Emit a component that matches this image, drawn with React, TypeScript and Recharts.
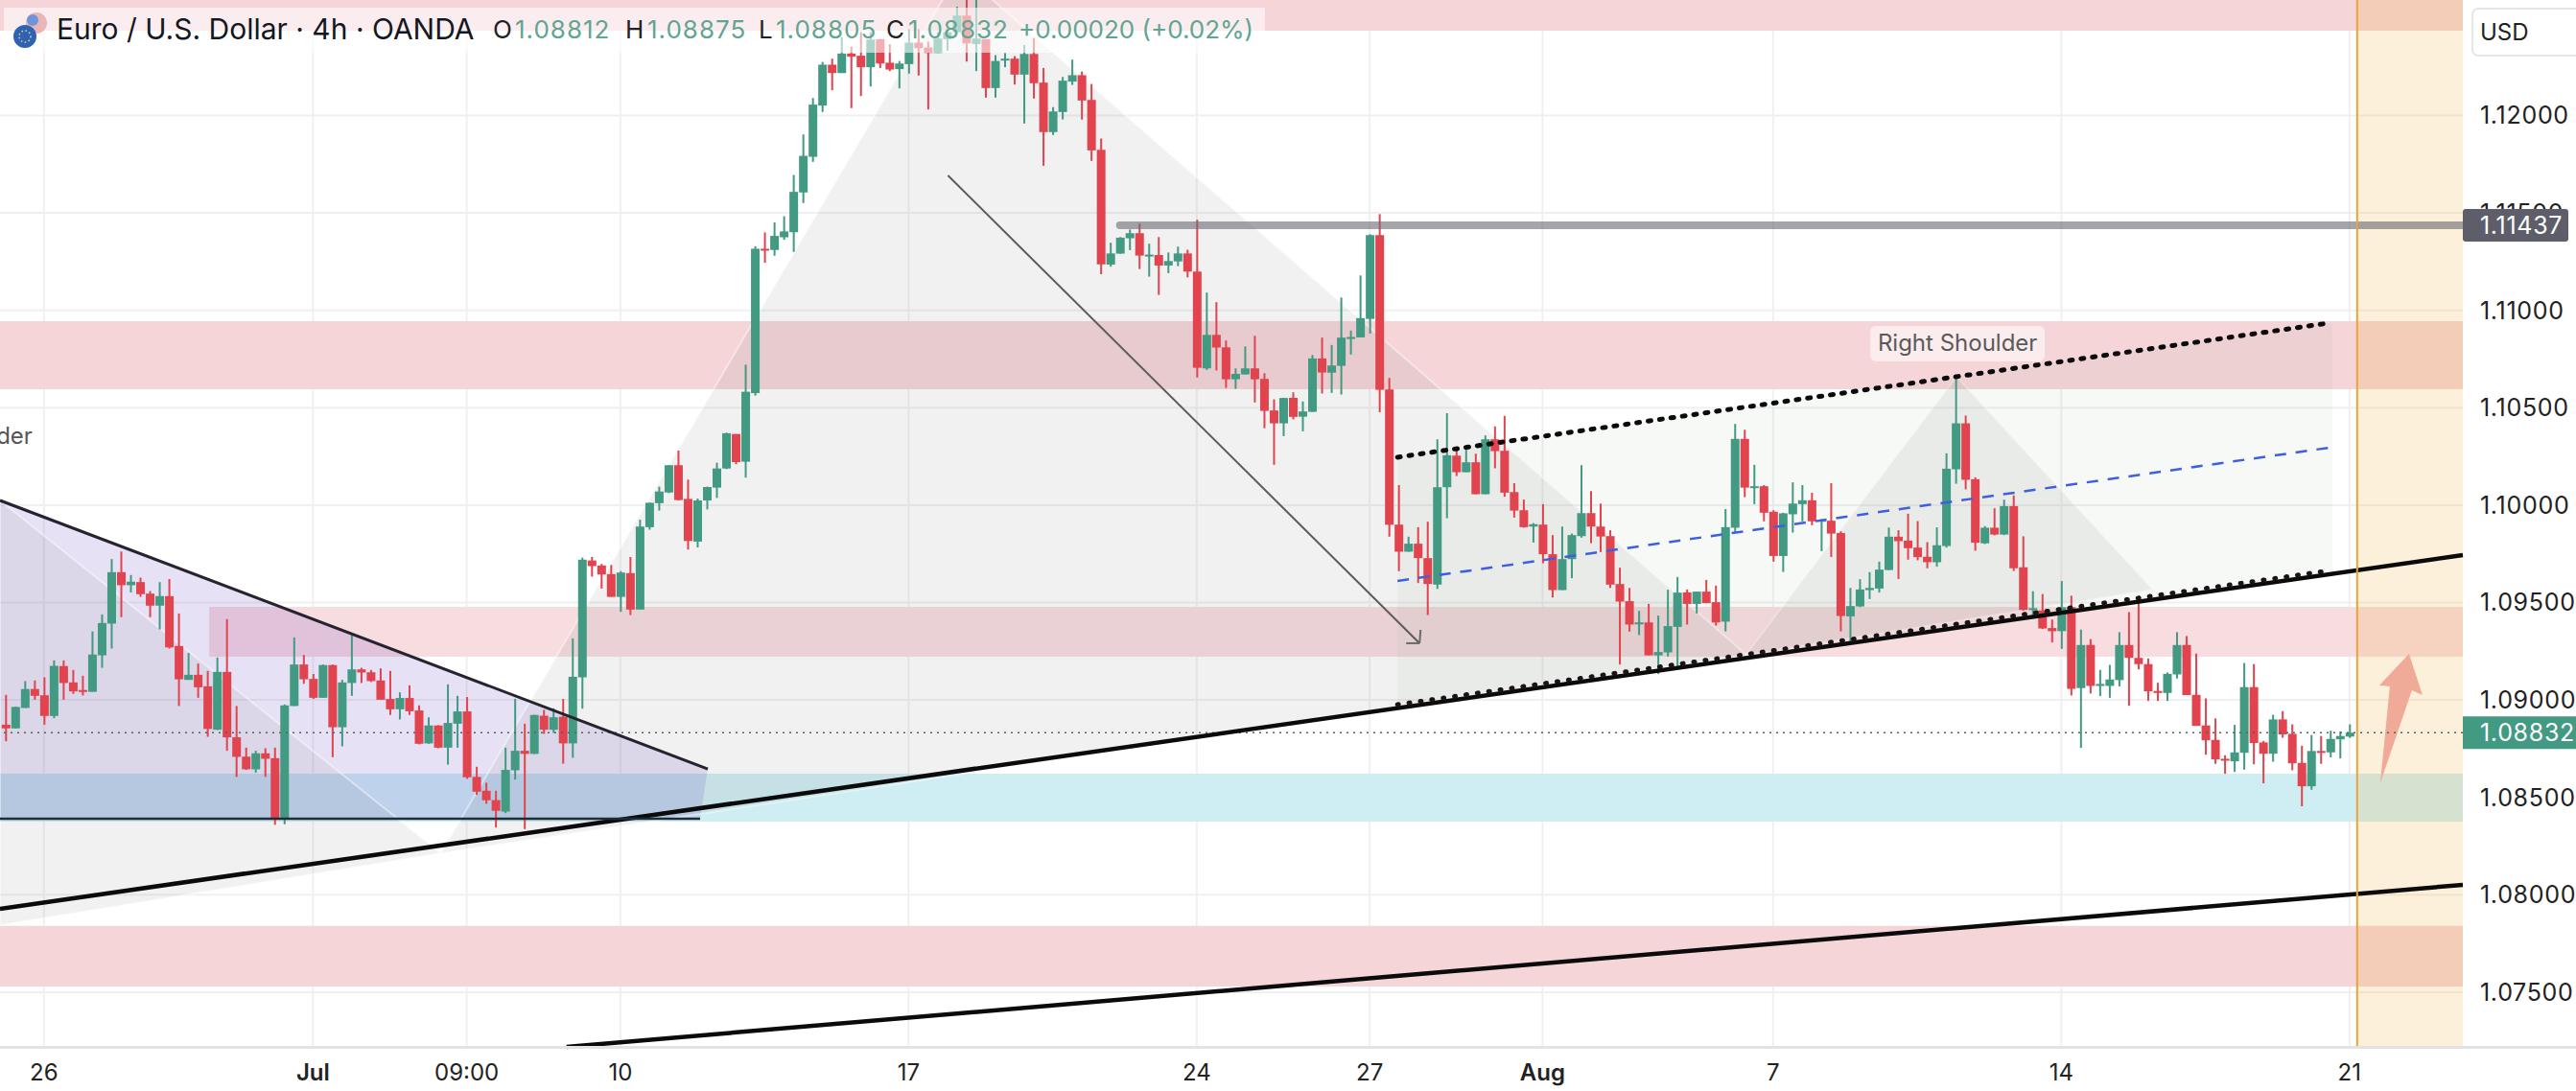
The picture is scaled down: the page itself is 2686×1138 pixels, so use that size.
import React from "react";
import {
  ComposedChart,
  Bar,
  XAxis,
  YAxis,
  CartesianGrid,
  ReferenceArea,
  ReferenceLine,
  ReferenceDot,
} from "recharts";

const opens = [
  1.08873,1.08854,1.08959,1.09056,1.09024,1.08918,1.09174,1.09090,1.09051,1.09042,
  1.09229,1.09392,1.09656,1.09589,1.09605,1.09546,1.09484,1.09533,1.09277,1.09103,
  1.09129,1.09070,1.08847,1.09144,1.08808,1.08709,1.08644,1.08726,1.08701,1.08386,
  1.08969,1.09182,1.09108,1.09011,1.09179,1.08860,1.09087,1.09157,1.09142,1.09100,
  1.09005,1.08952,1.09010,1.08946,1.08777,1.08869,1.08755,1.08878,1.08941,1.08605,
  1.08534,1.08486,1.08427,1.08639,1.08739,1.08723,1.08919,1.08847,1.08914,1.08777,
  1.09116,1.09716,1.09690,1.09646,1.09529,1.09651,1.09464,1.09887,1.10010,1.10065,
  1.10205,1.10032,1.09813,1.10024,1.10090,1.10188,1.10365,1.10223,1.10575,1.11316,
  1.11310,1.11375,1.11401,1.11605,1.11788,1.12051,1.12261,1.12218,1.12318,1.12307,
  1.12248,1.12392,1.12271,1.12238,1.12264,1.12374,1.12349,1.12321,1.12392,1.12428,
  1.12513,1.12367,1.12392,1.12141,1.12284,1.12292,1.12210,1.12316,1.12169,1.11915,
  1.12018,1.12174,1.12207,1.12080,1.11824,1.11235,1.11291,1.11370,1.11396,1.11279,
  1.11284,1.11230,1.11251,1.11292,1.11199,1.10702,1.10874,1.10810,1.10646,1.10671,
  1.10702,1.10648,1.10486,1.10420,1.10551,1.10454,1.10479,1.10753,1.10680,1.10715,
  1.10858,1.10861,1.10956,1.11386,1.10594,1.09900,1.09761,1.09802,1.09728,1.09592,
  1.10092,1.10254,1.10169,1.10220,1.10056,1.10338,1.10279,1.10067,1.09974,1.09890,
  1.09900,1.09748,1.09564,1.09723,1.09841,1.09959,1.09890,1.09841,1.09595,1.09507,
  1.09392,1.09398,1.09229,1.09244,1.09375,1.09552,1.09493,1.09556,1.09502,1.09402,
  1.09884,1.10340,1.10090,1.10097,1.09966,1.09739,1.09953,1.10005,1.10025,1.09917,
  1.09920,1.09857,1.09429,1.09480,1.09564,1.09572,1.09667,1.09838,1.09818,1.09782,
  1.09735,1.09707,1.09790,1.10184,1.10420,1.10133,1.09804,1.09884,1.09849,1.09995,
  1.09681,1.09462,1.09459,1.09369,1.09353,1.09476,1.09061,1.09282,1.09072,1.09072,
  1.09102,1.09282,1.09216,1.09184,1.09046,1.09036,1.09131,1.09282,1.09026,1.08869,
  1.08795,1.08698,1.08685,1.08729,1.09066,1.08782,1.08724,1.08900,1.08826,1.08677,
  1.08557,1.08738,1.08731,1.08798,1.08812,
];

const highs = [
  1.09026,1.08965,1.09097,1.09100,1.09116,1.09203,1.09203,1.09154,1.09124,1.09352,
  1.09439,1.09723,1.09762,1.09641,1.09628,1.09559,1.09605,1.09621,1.09444,1.09241,
  1.09187,1.09149,1.09218,1.09415,1.08969,1.08755,1.08739,1.08752,1.08755,1.08977,
  1.09321,1.09231,1.09133,1.09182,1.09182,1.09103,1.09341,1.09165,1.09154,1.09162,
  1.09149,1.09039,1.09075,1.08972,1.08911,1.08870,1.09080,1.09021,1.09015,1.08657,
  1.08575,1.08534,1.08755,1.09006,1.08878,1.08924,1.08949,1.08957,1.09005,1.09316,
  1.09731,1.09734,1.09698,1.09693,1.09661,1.09734,1.09925,1.10012,1.10095,1.10205,
  1.10280,1.10131,1.10034,1.10095,1.10218,1.10372,1.10365,1.10721,1.11329,1.11400,
  1.11451,1.11483,1.11695,1.11903,1.12090,1.12275,1.12292,1.12403,1.12354,1.12428,
  1.12428,1.12392,1.12366,1.12280,1.12444,1.12444,1.12379,1.12428,1.12448,1.12559,
  1.12600,1.12600,1.12392,1.12310,1.12321,1.12305,1.12362,1.12398,1.12244,1.12043,
  1.12198,1.12287,1.12226,1.12162,1.11882,1.11347,1.11376,1.11415,1.11445,1.11342,
  1.11376,1.11297,1.11327,1.11311,1.11465,1.11091,1.11042,1.10845,1.10702,1.10815,
  1.10869,1.10677,1.10543,1.10551,1.10579,1.10532,1.10771,1.10860,1.10822,1.11066,
  1.10896,1.11179,1.11391,1.11494,1.10653,1.10103,1.09838,1.09887,1.09915,1.10338,
  1.10472,1.10297,1.10289,1.10264,1.10358,1.10404,1.10458,1.10113,1.10028,1.09908,
  1.10005,1.09846,1.09890,1.09854,1.10205,1.10072,1.10008,1.09871,1.09679,1.09575,
  1.09457,1.09493,1.09433,1.09566,1.09631,1.09567,1.09556,1.09616,1.09587,1.09980,
  1.10417,1.10387,1.10207,1.10103,1.09974,1.09961,1.10117,1.10103,1.10064,1.09928,
  1.10113,1.09866,1.09575,1.09620,1.09656,1.09710,1.09885,1.09871,1.09956,1.09918,
  1.09810,1.09886,1.10266,1.10660,1.10460,1.10143,1.09892,1.09984,1.10028,1.10050,
  1.09840,1.09558,1.09544,1.09413,1.09610,1.09535,1.09361,1.09312,1.09154,1.09180,
  1.09348,1.09451,1.09520,1.09213,1.09088,1.09141,1.09348,1.09328,1.09238,1.09008,
  1.08905,1.08716,1.08872,1.09190,1.09184,1.08790,1.08924,1.08943,1.08875,1.08765,
  1.08820,1.08815,1.08842,1.08839,1.08875,
];

const lows = [
  1.08788,1.08854,1.08959,1.09001,1.08873,1.08906,1.09001,1.09031,1.09023,1.09042,
  1.09165,1.09264,1.09425,1.09552,1.09529,1.09425,1.09362,1.09264,1.08969,1.09103,
  1.09011,1.08811,1.08846,1.08739,1.08605,1.08641,1.08627,1.08605,1.08359,1.08362,
  1.08969,1.09083,1.09005,1.09011,1.08706,1.08762,1.09021,1.09087,1.09092,1.09001,
  1.08923,1.08900,1.08923,1.08772,1.08775,1.08752,1.08668,1.08755,1.08595,1.08513,
  1.08467,1.08345,1.08419,1.08591,1.08337,1.08723,1.08826,1.08831,1.08673,1.08703,
  1.08955,1.09633,1.09572,1.09529,1.09452,1.09436,1.09464,1.09874,1.09972,1.10062,
  1.10024,1.09772,1.09783,1.09978,1.10037,1.10185,1.10210,1.10141,1.10562,1.11244,
  1.11280,1.11362,1.11300,1.11551,1.11762,1.12018,1.12130,1.12218,1.12038,1.12100,
  1.12149,1.12244,1.12228,1.12139,1.12215,1.12205,1.12031,1.12321,1.12333,1.12428,
  1.12277,1.12228,1.12092,1.12092,1.12248,1.12159,1.11959,1.12087,1.11742,1.11900,
  1.11980,1.12157,1.11979,1.11767,1.11185,1.11224,1.11291,1.11309,1.11212,1.11173,
  1.11079,1.11191,1.11227,1.11169,1.10655,1.10694,1.10691,1.10602,1.10597,1.10671,
  1.10527,1.10395,1.10207,1.10354,1.10440,1.10379,1.10479,1.10573,1.10576,1.10568,
  1.10773,1.10861,1.10881,1.10477,1.09838,1.09661,1.09761,1.09600,1.09436,1.09570,
  1.09933,1.10149,1.10169,1.10056,1.10056,1.10189,1.10043,1.09936,1.09884,1.09808,
  1.09702,1.09526,1.09564,1.09625,1.09833,1.09805,1.09759,1.09575,1.09182,1.09351,
  1.09333,1.09229,1.09133,1.09223,1.09157,1.09387,1.09444,1.09497,1.09382,1.09352,
  1.09857,1.10041,1.10005,1.09917,1.09710,1.09657,1.09859,1.09917,1.09897,1.09764,
  1.09734,1.09352,1.09293,1.09477,1.09518,1.09551,1.09667,1.09621,1.09720,1.09717,
  1.09676,1.09684,1.09782,1.10110,1.10081,1.09766,1.09800,1.09845,1.09846,1.09662,
  1.09459,1.09421,1.09364,1.09295,1.09262,1.09023,1.08754,1.09033,1.09020,1.09011,
  1.09069,1.08970,1.09157,1.08995,1.08995,1.08995,1.09110,1.09025,1.08867,1.08719,
  1.08672,1.08621,1.08631,1.08642,1.08670,1.08572,1.08683,1.08806,1.08639,1.08454,
  1.08539,1.08672,1.08705,1.08700,1.08805,
];

const closes = [
  1.08854,1.08964,1.09056,1.09021,1.08918,1.09175,1.09087,1.09044,1.09042,1.09233,
  1.09395,1.09656,1.09589,1.09607,1.09543,1.09484,1.09533,1.09270,1.09106,1.09129,
  1.09065,1.08851,1.09144,1.08808,1.08708,1.08644,1.08726,1.08698,1.08390,1.08972,
  1.09182,1.09106,1.09011,1.09179,1.08860,1.09090,1.09157,1.09141,1.09097,1.09001,
  1.08952,1.09010,1.08942,1.08775,1.08869,1.08755,1.08882,1.08941,1.08603,1.08529,
  1.08485,1.08431,1.08641,1.08739,1.08723,1.08923,1.08847,1.08911,1.08777,1.09119,
  1.09720,1.09687,1.09644,1.09529,1.09654,1.09464,1.09890,1.10012,1.10070,1.10205,
  1.10026,1.09816,1.10024,1.10093,1.10188,1.10369,1.10221,1.10582,1.11316,1.11311,
  1.11382,1.11405,1.11608,1.11793,1.12056,1.12261,1.12218,1.12318,1.12302,1.12248,
  1.12390,1.12267,1.12236,1.12267,1.12374,1.12346,1.12321,1.12395,1.12428,1.12513,
  1.12371,1.12395,1.12141,1.12280,1.12292,1.12210,1.12316,1.12166,1.11915,1.12021,
  1.12179,1.12207,1.12077,1.11821,1.11236,1.11292,1.11373,1.11396,1.11281,1.11286,
  1.11230,1.11253,1.11292,1.11199,1.10705,1.10874,1.10809,1.10646,1.10674,1.10702,
  1.10646,1.10484,1.10420,1.10550,1.10453,1.10481,1.10753,1.10681,1.10717,1.10860,
  1.10863,1.10960,1.11386,1.10592,1.09899,1.09761,1.09802,1.09728,1.09595,1.10092,
  1.10256,1.10169,1.10220,1.10056,1.10338,1.10277,1.10064,1.09972,1.09887,1.09902,
  1.09748,1.09564,1.09723,1.09846,1.09959,1.09890,1.09839,1.09592,1.09505,1.09387,
  1.09398,1.09229,1.09246,1.09379,1.09551,1.09493,1.09556,1.09497,1.09398,1.09887,
  1.10340,1.10090,1.10097,1.09961,1.09739,1.09958,1.10008,1.10025,1.09917,1.09925,
  1.09854,1.09431,1.09482,1.09567,1.09575,1.09669,1.09838,1.09815,1.09779,1.09733,
  1.09707,1.09794,1.10187,1.10420,1.10130,1.09807,1.09884,1.09849,1.09995,1.09676,
  1.09462,1.09471,1.09367,1.09353,1.09476,1.09057,1.09282,1.09072,1.09082,1.09105,
  1.09282,1.09216,1.09184,1.09044,1.09036,1.09134,1.09282,1.09025,1.08867,1.08793,
  1.08695,1.08688,1.08731,1.09066,1.08779,1.08724,1.08900,1.08823,1.08675,1.08557,
  1.08738,1.08731,1.08800,1.08815,1.08832,
];

// candle index of each date label on the time axis
const timeTicks = [4, 32, 48, 64, 94, 124, 142, 160, 184, 214, 244];
const timeLabels = ["26", "Jul", "09:00", "10", "17", "24", "27", "Aug", "7", "14", "21"];
const boldLabels = ["Jul", "Aug"];

const priceGrid = [1.075, 1.08, 1.085, 1.09, 1.095, 1.1, 1.105, 1.11, 1.115, 1.12];
const lastPrice = 1.08832;
const markedPrice = 1.11437;

const xDomain = [-0.58, 255.8];
const yDomain = [1.07219, 1.12593];

// supply / demand zones: [fromIndex, toIndex, lowPrice, highPrice]
const supplyZones = [
  [-0.58, 255.8, 1.12436, 1.12593],
  [-0.58, 255.8, 1.10595, 1.10944],
  [-0.58, 255.8, 1.07529, 1.0784],
];
const thinSupply = [21.2, 255.8, 1.09222, 1.09478];
const demandZone = [-0.58, 255.8, 1.08375, 1.08621];

// drawings, as [candle index, price]
const leftShoulder = [[-0.58, 1.10024], [45.3, 1.08213], [-0.58, 1.07844]];
const headShape = [[45.3, 1.08213], [99.3, 1.12741], [181.2, 1.09232]];
const rightShoulder = [[181.2, 1.09232], [203.1, 1.10659], [223.5, 1.09566]];
const triangleShape = [[-0.58, 1.10024], [73.1, 1.08646], [72.3, 1.0839], [-0.58, 1.0839]];
const channelShape = [[144.9, 1.10246], [242.2, 1.10935], [242.2, 1.0966], [144.9, 1.08976]];
const longArrow = [[247.2, 1.08572], [248.2, 1.09069], [247.1, 1.09074], [250.2, 1.09237], [251.6, 1.09025], [250.5, 1.0905]];

const necklineLow = [[-0.58, 1.07928], [255.8, 1.09744]];
const trendLow = [[58.4, 1.07219], [255.8, 1.08051]];
const triangleTop = [[-0.58, 1.10024], [73.1, 1.08646]];
const triangleBase = [[-0.58, 1.0839], [72.3, 1.0839]];
const channelTop = [[144.9, 1.10246], [241.9, 1.10935]];
const channelMid = [[144.9, 1.09611], [241.9, 1.10295]];
const channelBottom = [[144.9, 1.08976], [241.9, 1.09664]];
const downArrow = [[98.1, 1.11692], [147.2, 1.09291]];
const downArrowHeadA = [[147.3, 1.0936], [147.2, 1.09291]];
const downArrowHeadB = [[145.8, 1.09291], [147.2, 1.09291]];

const sessionLine = 244.8;

const GREEN = "#429a83";
const RED = "#e1444f";
const FONT = "Inter, 'Noto Sans', sans-serif";

const candles = opens.map((o, i) => ({
  i,
  o,
  h: highs[i],
  l: lows[i],
  c: closes[i],
  range: [lows[i], highs[i]],
}));

const ticksForPrice = [...priceGrid, markedPrice, lastPrice];

function Candle(props: any) {
  const { x, y, width, height, payload } = props;
  const { o, h, l, c } = payload;
  const unit = height / (h - l);
  const top = y + (h - Math.max(o, c)) * unit;
  const bodyH = Math.max(Math.abs(o - c) * unit, 2);
  const color = c >= o ? GREEN : RED;
  const mid = x + width / 2;
  return (
    <g>
      <rect x={mid - 1} y={y} width={2} height={height} fill={color} />
      <rect x={x} y={top} width={width} height={bodyH} fill={color} />
    </g>
  );
}

function TimeTick(props: any) {
  const { x, y, payload } = props;
  const label = timeLabels[timeTicks.indexOf(payload.value)];
  return (
    <text
      x={x}
      y={y + 27}
      textAnchor="middle"
      fontFamily={FONT}
      fontSize={24}
      fontWeight={boldLabels.includes(label) ? 600 : 400}
      fill="#222"
    >
      {label}
    </text>
  );
}

function PriceTick(props: any) {
  const { x, y, payload } = props;
  const v = payload.value;
  const isLast = v === lastPrice;
  const isMark = v === markedPrice;
  return (
    <g>
      {isLast && <rect x={x} y={y - 17} width={118} height={34} fill={GREEN} />}
      {isMark && <rect x={x} y={y - 17} width={110} height={34} rx={3} fill="#5d5e6a" />}
      <text
        x={x + 18}
        y={y + 9}
        fontFamily={FONT}
        fontSize={25}
        letterSpacing={0.7}
        fill={isLast || isMark ? "#fff" : "#222"}
      >
        {v.toFixed(5)}
      </text>
    </g>
  );
}

// polygon drawn in the box of a ReferenceArea, so the axes place it
function polygon(pts: number[][], fill: string, edge?: string) {
  const xs = pts.map((p) => p[0]);
  const ys = pts.map((p) => p[1]);
  const x1 = Math.min(...xs);
  const x2 = Math.max(...xs);
  const y1 = Math.min(...ys);
  const y2 = Math.max(...ys);
  const shape = (p: any) => {
    const points = pts
      .map(([a, b]) => {
        const px = p.x + ((a - x1) / (x2 - x1)) * p.width;
        const py = p.y + ((y2 - b) / (y2 - y1)) * p.height;
        return `${px},${py}`;
      })
      .join(" ");
    return <polygon points={points} fill={fill} stroke={edge || "none"} strokeWidth={2} />;
  };
  return (
    <ReferenceArea x1={x1} x2={x2} y1={y1} y2={y2} ifOverflow="visible" shape={shape} />
  );
}

function zone(z: number[], fill: string) {
  return (
    <ReferenceArea
      x1={z[0]}
      x2={z[1]}
      y1={z[2]}
      y2={z[3]}
      fill={fill}
      fillOpacity={1}
      stroke="none"
      ifOverflow="visible"
    />
  );
}

function segment(s: number[][], stroke: string, width: number, dash?: string, cap?: any) {
  return (
    <ReferenceLine
      segment={[
        { x: s[0][0], y: s[0][1] },
        { x: s[1][0], y: s[1][1] },
      ]}
      stroke={stroke}
      strokeWidth={width}
      strokeDasharray={dash}
      strokeLinecap={cap}
      ifOverflow="visible"
    />
  );
}

const legendSpans = [
  { t: "O", x: 514, c: "#222", s: 1 },
  { t: "1.08812", x: 537, c: "#5fa592", s: 1 },
  { t: "H", x: 652, c: "#222", s: 1 },
  { t: "1.08875", x: 675, c: "#5fa592", s: 1 },
  { t: "L", x: 791, c: "#222", s: 1 },
  { t: "1.08805", x: 809, c: "#5fa592", s: 1 },
  { t: "C", x: 924, c: "#222", s: 1 },
  { t: "1.08832", x: 947, c: "#5fa592", s: 1 },
  { t: "+0.00020 (+0.02%)", x: 1062, c: "#5fa592", s: 0 },
];

export default function App() {
  return (
    <div style={{ position: "absolute", left: 0, top: 0, width: 2686, height: 1138, background: "#fff", overflow: "hidden" }}>
      <ComposedChart
        width={2686}
        height={1138}
        data={candles}
        margin={{ top: 0, right: 0, bottom: 0, left: 0 }}
      >
        <CartesianGrid
          stroke="#f0f0f1"
          strokeWidth={2}
          horizontalValues={priceGrid}
          verticalValues={timeTicks}
        />
        <XAxis
          dataKey="i"
          type="number"
          domain={xDomain}
          allowDataOverflow
          ticks={timeTicks}
          interval={0}
          height={46}
          tick={TimeTick}
          tickLine={false}
          axisLine={false}
        />
        <YAxis
          orientation="right"
          type="number"
          domain={yDomain}
          allowDataOverflow
          ticks={ticksForPrice}
          interval={0}
          width={118}
          tick={PriceTick}
          tickLine={false}
          tickSize={0}
          tickMargin={0}
          axisLine={false}
        />
        {supplyZones.map((z) => zone(z, "#f5d5d8"))}
        {zone(thinSupply, "#f7dce0")}
        {zone(demandZone, "#cfeef3")}
        {polygon(triangleShape, "rgba(103,70,190,0.16)")}
        {polygon(leftShoulder, "rgba(120,120,120,0.1)", "rgba(255,255,255,0.45)")}
        {polygon(headShape, "rgba(120,120,120,0.1)", "rgba(255,255,255,0.45)")}
        {polygon(rightShoulder, "rgba(120,120,120,0.1)", "rgba(255,255,255,0.3)")}
        {polygon(channelShape, "rgba(90,140,90,0.05)")}
        <ReferenceArea
          x1={sessionLine}
          x2={xDomain[1]}
          y1={yDomain[0]}
          y2={yDomain[1]}
          fill="rgba(245,166,35,0.17)"
          fillOpacity={1}
          stroke="none"
        />
        <ReferenceLine y={lastPrice} stroke="#4f6660" strokeWidth={1.5} strokeDasharray="2 5" />
        <Bar dataKey="range" barSize={9} shape={Candle} isAnimationActive={false} />
        {segment(necklineLow, "#0b0b0b", 4.5)}
        {segment(trendLow, "#0b0b0b", 4.5)}
        {segment(triangleTop, "#26232e", 3)}
        {segment(triangleBase, "#1f2c3a", 2.5)}
        {segment(channelTop, "#0b0b0b", 5, "3 9", "round")}
        {segment(channelBottom, "#1a1414", 5, "1 11", "round")}
        {segment(channelMid, "#3f5fe0", 2.5, "12 10")}
        {segment(downArrow, "#5f5a5a", 2)}
        {segment(downArrowHeadA, "#6f6a6a", 2)}
        {segment(downArrowHeadB, "#6f6a6a", 2)}
        {segment([[116, markedPrice], [xDomain[1], markedPrice]], "rgba(110,110,120,0.62)", 8, undefined, "round")}
        {polygon(longArrow, "#f0ab98")}
        <ReferenceLine x={sessionLine} stroke="#e8a33d" strokeWidth={2} />
        <ReferenceDot
          x={2.5}
          y={1.10354}
          ifOverflow="visible"
          shape={(p: any) => (
            <text x={p.cx + 3} y={p.cy + 8} textAnchor="end" fontFamily={FONT} fontSize={24} fill="#555">
              Left Shoulder
            </text>
          )}
        />
        <ReferenceDot
          x={203.2}
          y={1.10831}
          ifOverflow="visible"
          shape={(p: any) => (
            <g>
              <rect x={p.cx - 91} y={p.cy - 18} width={182} height={37} rx={6} fill="rgba(255,255,255,0.55)" />
              <text x={p.cx} y={p.cy + 8} textAnchor="middle" fontFamily={FONT} fontSize={24} fill="#5a5a5a">
                Right Shoulder
              </text>
            </g>
          )}
        />
      </ComposedChart>

      {/* time axis rule */}
      <div style={{ position: "absolute", left: 0, top: 1091, width: 2686, height: 3, background: "#e3e3e6" }} />

      {/* legend strip */}
      <div style={{ position: "absolute", left: 4, top: 8, width: 1315, height: 47, background: "rgba(255,255,255,0.58)" }} />
      <svg style={{ position: "absolute", left: 10, top: 12 }} width={44} height={40}>
        <circle cx={28} cy={12} r={11} fill="#e8b6b6" />
        <circle cx={24} cy={9} r={6} fill="#6f94d8" />
        <circle cx={16} cy={26} r={12} fill="#2f62b5" />
        <circle cx={16} cy={26} r={6} fill="none" stroke="#e8d27a" strokeWidth={1.5} strokeDasharray="1.5 2.5" />
      </svg>
      <div style={{ position: "absolute", left: 59, top: 12, fontFamily: FONT, fontSize: 30, color: "#131722", whiteSpace: "nowrap" }}>
        Euro / U.S. Dollar · 4h · OANDA
      </div>
      {legendSpans.map((s) => (
        <div key={s.x} style={{ position: "absolute", left: s.x, top: 15, fontFamily: FONT, fontSize: 26, letterSpacing: s.s, color: s.c, whiteSpace: "nowrap" }}>
          {s.t}
        </div>
      ))}

      {/* currency button */}
      <div style={{ position: "absolute", left: 2577, top: 8, width: 130, height: 51, border: "2px solid #e6e6e6", borderRadius: 7, background: "#fff", boxSizing: "border-box", fontFamily: FONT, fontSize: 24, color: "#222", paddingLeft: 7, lineHeight: "47px" }}>
        USD
      </div>
    </div>
  );
}
